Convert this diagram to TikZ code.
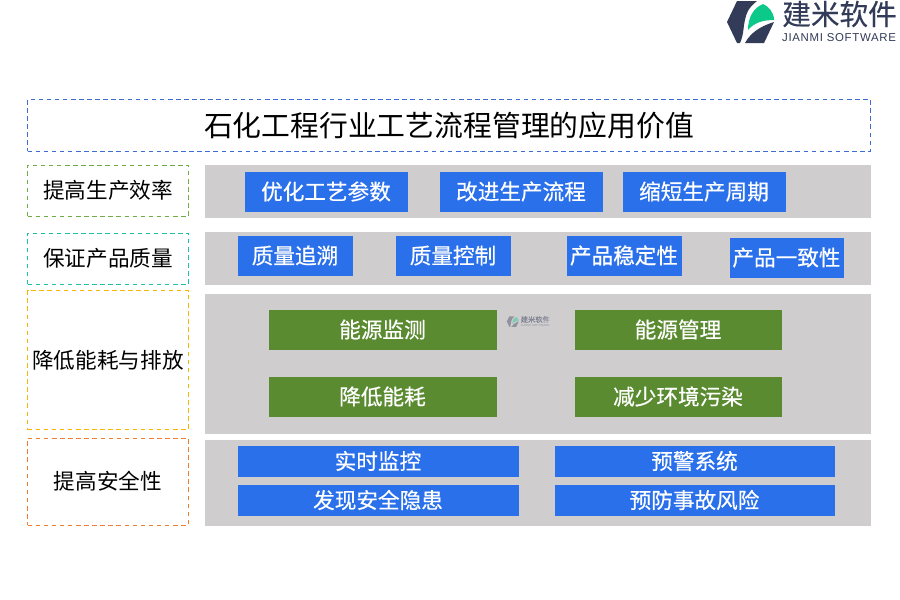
\documentclass[tikz,border=0pt]{standalone}
\usepackage{fontspec}
\setmainfont{Noto Sans CJK SC}
\newfontfamily\logolatin[LetterSpace=6]{Liberation Sans}
\newfontfamily\heavycn[FakeBold=0.5]{Noto Sans CJK SC}
\newfontfamily\logocn[FakeBold=0.25]{Noto Sans CJK SC}
\usepackage{xcolor}
\usetikzlibrary{positioning}
\definecolor{panelgray}{HTML}{CFCDCE}
\definecolor{btnblue}{HTML}{2A70EA}
\definecolor{btngreen}{HTML}{5A8B30}
\definecolor{logodark}{HTML}{323B58}
\definecolor{logogreen}{HTML}{0CC98A}
\definecolor{dashblue}{HTML}{3F6CD0}
\definecolor{dashgreen}{HTML}{70AD47}
\definecolor{dashteal}{HTML}{1FBFA5}
\definecolor{dashyellow}{HTML}{F5B400}
\definecolor{dashorange}{HTML}{ED7D31}

\begin{document}
\begin{tikzpicture}[
  every node/.style={inner sep=0pt, outer sep=0pt, align=center},
  titlebox/.style={draw=#1, dash pattern=on 2.6pt off 2pt, line width=0.55pt, minimum width=16.86cm, minimum height=1.03cm,
                   font=\fontsize{16.4}{18}\selectfont},
  tagbox/.style={draw=#1, dash pattern=on 2.6pt off 2pt, line width=0.55pt, minimum width=3.22cm,
                 font=\fontsize{12.3}{14}\selectfont},
  panel/.style={fill=panelgray, minimum width=13.32cm},
  bluebox/.style={fill=btnblue, text=white, font=\fontsize{12.3}{14}\heavycn},
  greenbox/.style={fill=btngreen, text=white, font=\fontsize{12.3}{14}\heavycn},
  logomark/.pic={
    \begin{scope}[x=0.02cm, y=-0.02cm]
      \fill[logodark] (27,22) -- (37,1) -- (57,1) .. controls (48,8) and (46,14) .. (45,20)
        .. controls (43,28) and (44,34) .. (40,43) -- (37,43) -- cycle;
      \fill[logodark] (45,43) .. controls (50,34) and (58,27) .. (74,22) -- (64,43) -- cycle;
      \fill[logogreen] (48,30) .. controls (48,18) and (53,8) .. (63,4)
        .. controls (68,6) and (74,12) .. (74,20) .. controls (62,20) and (54,23) .. (48,30) -- cycle;
      \node[text=logodark, font=\fontsize{16.3}{18}\logocn, transform shape] (-cn) at (139.5,14) {建米软件};
      \node[text=logodark, font=\fontsize{6.5}{7}\logolatin, transform shape] (-en) at (139,38) {JIANMI SOFTWARE};
    \end{scope}
  }
]
  \useasboundingbox (0,0) rectangle (18,-12);

  % Logo
  \pic (logo) at (14,0) {logomark};

  % Title
  \node[titlebox=dashblue, anchor=north west] (title) at (0.55,-1.99) {石化工程行业工艺流程管理的应用价值};

  % Left tags
  \node[tagbox=dashgreen, minimum height=1.03cm, below right=0.28cm and 0cm of title.south west] (effTag) {提高生产效率};
  \node[tagbox=dashteal, minimum height=1.03cm, below=0.33cm of effTag] (qualTag) {保证产品质量};
  \node[tagbox=dashyellow, minimum height=2.78cm, below=0.12cm of qualTag] (energyTag) {降低能耗与排放};
  \node[tagbox=dashorange, minimum height=1.74cm, below=0.17cm of energyTag] (safeTag) {提高安全性};

  % Gray panels
  \node[panel, minimum height=1.06cm, below right=0.27cm and 3.54cm of title.south west] (effPanel) {};
  \node[panel, minimum height=1.06cm, below=0.28cm of effPanel] (qualPanel) {};
  \node[panel, minimum height=2.8cm, below=0.18cm of qualPanel] (energyPanel) {};
  \node[panel, minimum height=1.72cm, below=0.12cm of energyPanel] (safePanel) {};

  % Watermark
  \pic[scale=0.253, opacity=0.4] (mark) at (10,-6.32) {logomark};

  % Efficiency row
  \node[bluebox, minimum width=3.26cm, minimum height=0.8cm, below right=0.14cm and 0.8cm of effPanel.north west] (opt) {优化工艺参数};
  \node[bluebox, minimum width=3.26cm, minimum height=0.8cm, right=0.64cm of opt] (imp) {改进生产流程};
  \node[bluebox, minimum width=3.26cm, minimum height=0.8cm, right=0.4cm of imp] (cut) {缩短生产周期};

  % Quality row
  \node[bluebox, minimum width=2.3cm, minimum height=0.8cm, below right=0.08cm and 0.66cm of qualPanel.north west] (trace) {质量追溯};
  \node[bluebox, minimum width=2.3cm, minimum height=0.8cm, right=0.86cm of trace] (ctrl) {质量控制};
  \node[bluebox, minimum width=2.3cm, minimum height=0.8cm, right=1.12cm of ctrl] (stable) {产品稳定性};
  \node[bluebox, minimum width=2.28cm, minimum height=0.8cm, right=0.96cm of stable, yshift=-0.04cm] (same) {产品一致性};

  % Energy block
  \node[greenbox, minimum width=4.56cm, minimum height=0.8cm, below right=0.32cm and 1.28cm of energyPanel.north west] (monitor) {能源监测};
  \node[greenbox, minimum width=4.14cm, minimum height=0.8cm, right=1.56cm of monitor] (manage) {能源管理};
  \node[greenbox, minimum width=4.56cm, minimum height=0.8cm, below=0.54cm of monitor] (lower) {降低能耗};
  \node[greenbox, minimum width=4.14cm, minimum height=0.8cm, below=0.54cm of manage] (reduce) {减少环境污染};

  % Safety block
  \node[bluebox, minimum width=5.62cm, minimum height=0.62cm, below right=0.12cm and 0.66cm of safePanel.north west] (live) {实时监控};
  \node[bluebox, minimum width=5.6cm, minimum height=0.62cm, right=0.72cm of live] (warn) {预警系统};
  \node[bluebox, minimum width=5.62cm, minimum height=0.62cm, below=0.16cm of live] (risk) {发现安全隐患};
  \node[bluebox, minimum width=5.6cm, minimum height=0.62cm, below=0.16cm of warn] (prevent) {预防事故风险};
\end{tikzpicture}
\end{document}
